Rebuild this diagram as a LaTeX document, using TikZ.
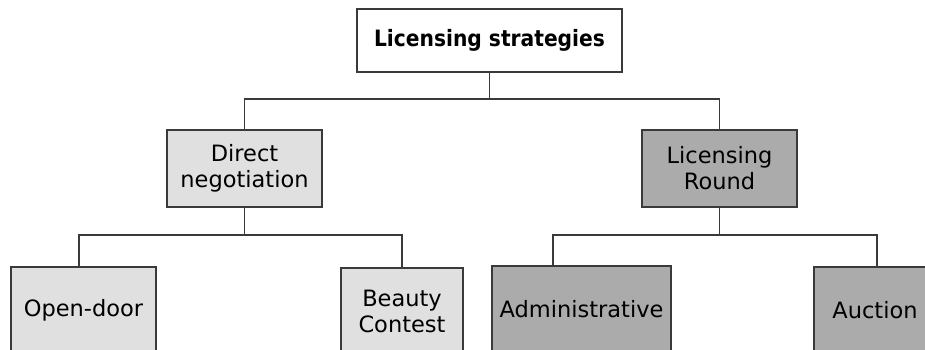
\documentclass[tikz,border=0pt]{standalone}
\usepackage{fontspec}
\setmainfont{DejaVu Sans}
\newfontfamily\condbold{DejaVu Sans Condensed}[BoldFont={DejaVu Sans Condensed Bold}]
\definecolor{lightbox}{HTML}{E0E0E0}
\definecolor{darkbox}{HTML}{ABABAB}
\definecolor{edgecol}{HTML}{3A3A3A}
\begin{document}
\begin{tikzpicture}[x=1pt,y=-1pt,
  box/.style={draw=edgecol,line width=1.4pt,inner sep=0pt,align=center,
    font=\fontsize{22.5}{26}\selectfont,text=black},
  lbox/.style={box,fill=lightbox},
  dbox/.style={box,fill=darkbox},
  conn/.style={draw=edgecol,line width=1.4pt}]
\useasboundingbox (0,0) rectangle (925,349);
\clip (0,0) rectangle (925,349);
\fill[white] (0,0) rectangle (925,349);
\node[box,fill=white,minimum width=265pt,minimum height=63pt,
  font=\condbold\bfseries\fontsize{22.5}{26}\selectfont] (top) at (489.5,40.5) {Licensing strategies};
\node[lbox,minimum width=155pt,minimum height=77pt] (dn) at (244.5,168.5) {Direct\\negotiation};
\node[dbox,minimum width=155pt,minimum height=77pt] (lr) at (719.5,168.5) {Licensing\\Round};
\node[lbox,minimum width=145pt,minimum height=86pt] (od) at (83.5,310) {Open-door};
\node[lbox,minimum width=122pt,minimum height=86pt] (bc) at (402,311) {Beauty\\Contest};
\node[dbox,minimum width=179pt,minimum height=86pt] (ad) at (581.5,309) {Administrative};
\node[dbox,minimum width=122pt,minimum height=86pt] (au) at (875,310) {Auction};
\coordinate (j1) at (489.5,99);
\coordinate (j2) at (244.5,235);
\coordinate (j3) at (719.5,235);
\draw[conn] (top.south) -- (j1);
\draw[conn] (j1) -| (dn.north);
\draw[conn] (j1) -| (lr.north);
\draw[conn] (dn.south) -- (j2);
\draw[conn] (j2) -| ([xshift=-4.5pt]od.north);
\draw[conn] (j2) -| (bc.north);
\draw[conn] (lr.south) -- (j3);
\draw[conn] (j3) -| ([xshift=-28.5pt]ad.north);
\draw[conn] (j3) -| ([xshift=2pt]au.north);
\end{tikzpicture}
\end{document}
